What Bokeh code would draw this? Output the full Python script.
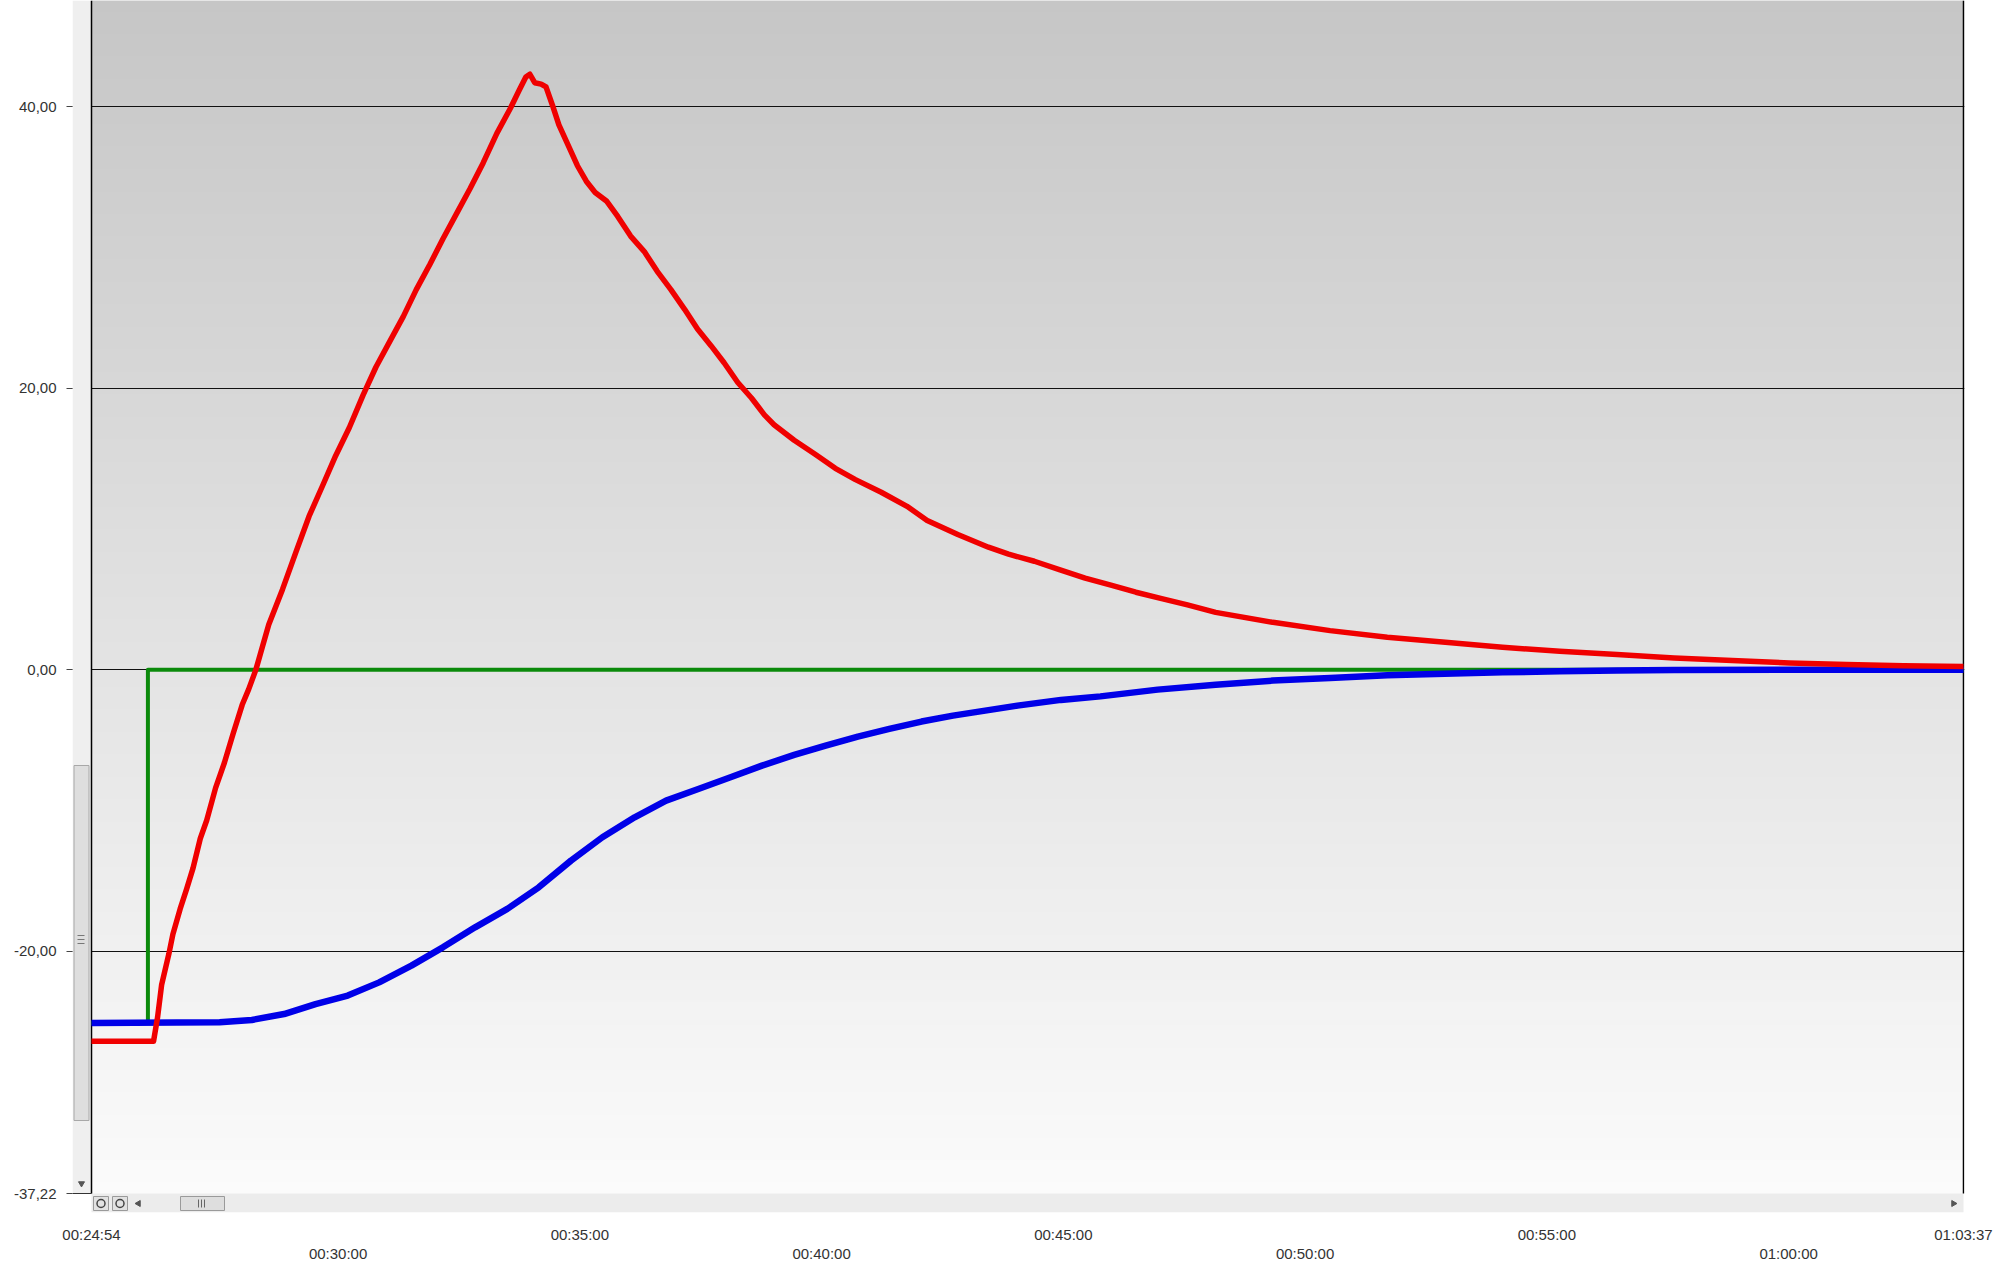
import numpy as np
from bokeh.plotting import figure
from bokeh.models import Range1d, LinearAxis, FixedTicker
from bokeh.embed import file_html
from bokeh.resources import INLINE

# ---------------- data (time in seconds of clock time, values) ----------------
red_t = [1494, 1571, 1576, 1581, 1590, 1595, 1604, 1612, 1620, 1629,
         1637, 1648, 1659, 1670, 1681, 1689, 1698, 1706, 1714, 1731,
         1748, 1764, 1781, 1797, 1814, 1831, 1847, 1864, 1881, 1897,
         1914, 1930, 1947, 1964, 1980, 1997, 2014, 2025, 2033, 2038,
         2044, 2052, 2058, 2066, 2074, 2086, 2097, 2108, 2119, 2133,
         2147, 2163, 2180, 2196, 2213, 2230, 2246, 2263, 2279, 2296,
         2313, 2329, 2341, 2366, 2392, 2417, 2442, 2474, 2506, 2531,
         2569, 2607, 2632, 2664, 2695, 2727, 2759, 2790, 2822, 2854,
         2889, 2960, 3031, 3102, 3174, 3245, 3316, 3387, 3458, 3530,
         3601, 3672, 3743, 3817]
red_v = [-26.4, -26.4, -24.7, -22.4, -20.2, -18.8, -17.0, -15.6, -14.1, -12.0,
         -10.7, -8.4, -6.6, -4.5, -2.5, -1.4, 0.0, 1.6, 3.2, 5.7,
         8.4, 10.9, 13.1, 15.2, 17.2, 19.5, 21.5, 23.3, 25.1, 27.0,
         28.8, 30.6, 32.4, 34.2, 36.0, 38.1, 39.9, 41.2, 42.1, 42.3,
         41.7, 41.6, 41.4, 40.1, 38.7, 37.2, 35.8, 34.7, 33.9, 33.3,
         32.2, 30.8, 29.7, 28.3, 27.0, 25.6, 24.2, 23.0, 21.8, 20.4,
         19.3, 18.1, 17.4, 16.3, 15.3, 14.3, 13.5, 12.6, 11.6, 10.6,
         9.6, 8.7, 8.2, 7.7, 7.1, 6.5, 6.0, 5.5, 5.05, 4.6,
         4.07, 3.36, 2.77, 2.3, 1.94, 1.59, 1.3, 1.07, 0.83, 0.64,
         0.47, 0.36, 0.28, 0.23]

blue_t = [1494, 1653, 1693, 1733, 1772, 1812, 1851, 1891, 1930, 1970,
          2010, 2049, 2089, 2128, 2168, 2207, 2247, 2287, 2326, 2366,
          2405, 2445, 2484, 2524, 2563, 2603, 2643, 2697, 2746, 2817,
          2889, 2960, 3031, 3102, 3173, 3245, 3316, 3387, 3458, 3601,
          3817]
blue_v = [-25.1, -25.06, -24.89, -24.47, -23.76, -23.16, -22.22, -21.03, -19.73, -18.31,
          -17.0, -15.47, -13.57, -11.91, -10.49, -9.31, -8.48, -7.65, -6.82, -6.06,
          -5.40, -4.76, -4.21, -3.69, -3.27, -2.91, -2.56, -2.15, -1.9, -1.42,
          -1.07, -0.78, -0.59, -0.40, -0.29, -0.19, -0.12, -0.06, -0.03, 0.0,
          0.0]

green_t = [1494, 1564, 1564, 3817]
green_v = [-25.1, -25.1, 0.0, 0.0]

y_ticks = [-37.22, -20, 0, 20, 40]
y_tick_labels = ["-37,22", "-20,00", "0,00", "20,00", "40,00"]
grid_values = [-20, 0, 20, 40]

x_ticks_upper = [1494, 2100, 2700, 3300, 3817]
x_labels_upper = ["00:24:54", "00:35:00", "00:45:00", "00:55:00", "01:03:37"]
x_ticks_lower = [1800, 2400, 3000, 3600]
x_labels_lower = ["00:30:00", "00:40:00", "00:50:00", "01:00:00"]

# ---------------- layout ----------------
T0, T1 = x_ticks_upper[0], x_ticks_upper[-1]
Y_MIN = y_ticks[0]
PX_X = 0.80585   # px per second
PX_Y = 14.075    # px per unit
FRAME_W, FRAME_H = 1892, 1212
x_start = T0 - 19 / PX_X
x_end = x_start + FRAME_W / PX_X
y_end = Y_MIN + 1193 / PX_Y
y_start = y_end - FRAME_H / PX_Y


def dx(px):  # page pixel -> data x
    return x_start + (px - 72) / PX_X


def dy(py):  # page pixel -> data y
    return y_end - py / PX_Y


FONT = "Liberation Sans"

p = figure(frame_width=FRAME_W, frame_height=FRAME_H,
           x_range=Range1d(x_start, x_end), y_range=Range1d(y_start, y_end),
           output_backend="svg", toolbar_location=None,
           min_border_left=72, min_border_right=34, min_border_top=0, min_border_bottom=54,
           background_fill_color="white", border_fill_color="white",
           outline_line_color=None)

# gradient background
N = 106
edges = np.linspace(Y_MIN, y_end, N + 1)
step = edges[1] - edges[0]
shade = np.linspace(251, 198, N).round().astype(int)
cols = ["#%02x%02x%02x" % (c, c, c) for c in shade]
tops = np.minimum(edges[1:] + step, y_end)
p.quad(left=T0, right=x_end, bottom=edges[:-1], top=tops,
       fill_color=cols, line_color=None, level="image")

# grid
p.xgrid.grid_line_color = None
p.ygrid.ticker = FixedTicker(ticks=grid_values)
p.ygrid.grid_line_color = "#111111"
p.ygrid.grid_line_width = 1

# vertical scrollbar strip
p.quad(left=dx(72), right=dx(91), bottom=Y_MIN, top=y_end,
       fill_color="#efefef", line_color=None)
p.quad(left=dx(73.5), right=dx(88.5), bottom=dy(1120), top=dy(765),
       fill_color="#dedede", line_color="#a8a8a8", line_width=1)
p.segment(x0=[dx(77)] * 3, x1=[dx(84)] * 3,
          y0=[dy(935), dy(939), dy(943)], y1=[dy(935), dy(939), dy(943)],
          line_color="#777777", line_width=1)
p.scatter([dx(81)], [dy(1183)], marker="triangle", size=6, angle=np.pi,
          color="#555555")

# horizontal scrollbar
p.quad(left=dx(91), right=dx(1963), bottom=dy(1212), top=dy(1193),
       fill_color="#ececec", line_color=None)
p.quad(left=[dx(93), dx(112)], right=[dx(108), dx(127)],
       bottom=dy(1210), top=dy(1196),
       fill_color="#e2e2e2", line_color="#9a9a9a", line_width=1)
p.scatter([dx(100.5), dx(119.5)], [dy(1203)] * 2, marker="circle", size=8,
          fill_color=None, line_color="#444444", line_width=1.5)
p.scatter([dx(138)], [dy(1203)], marker="triangle", size=6, angle=np.pi / 2,
          color="#555555")
p.scatter([dx(1953)], [dy(1203)], marker="triangle", size=6, angle=-np.pi / 2,
          color="#555555")
p.quad(left=dx(180), right=dx(224), bottom=dy(1210), top=dy(1196),
       fill_color="#dedede", line_color="#9a9a9a", line_width=1)
p.segment(x0=[dx(198), dx(201), dx(204)], x1=[dx(198), dx(201), dx(204)],
          y0=dy(1207), y1=dy(1199), line_color="#666666", line_width=1)

# plot borders
p.segment(x0=[T0, T1], x1=[T0, T1], y0=[Y_MIN, Y_MIN], y1=[y_end, y_end],
          line_color="black", line_width=1.5)
p.segment(x0=[dx(66)], x1=[T0], y0=[Y_MIN], y1=[Y_MIN],
          line_color="#333333", line_width=1)

# data
p.line(green_t, green_v, line_color="#0b8a0b", line_width=4, line_join="round")
p.line(blue_t, blue_v, line_color="#0000e8", line_width=6.5, line_join="round")
p.line(red_t, red_v, line_color="#f00000", line_width=5.5, line_join="round")

# y axis
ya = p.yaxis[0]
ya.ticker = FixedTicker(ticks=y_ticks)
ya.major_label_overrides = dict(zip(y_ticks, y_tick_labels))
ya.axis_line_color = None
ya.major_tick_out = 6
ya.major_tick_in = 0
ya.major_tick_line_color = "#444444"
ya.minor_tick_line_color = None
ya.major_label_standoff = 10
ya.major_label_text_font = FONT
ya.major_label_text_font_size = "15px"
ya.major_label_text_color = "#333333"

# x axes (two staggered rows)
xa1 = p.xaxis[0]
xa1.ticker = FixedTicker(ticks=x_ticks_upper)
xa1.major_label_overrides = dict(zip(x_ticks_upper, x_labels_upper))

xa2 = LinearAxis(ticker=FixedTicker(ticks=x_ticks_lower),
                 major_label_overrides=dict(zip(x_ticks_lower, x_labels_lower)))
p.add_layout(xa2, "below")

for ax, so in ((xa1, 13), (xa2, -1)):
    ax.axis_line_color = None
    ax.major_tick_line_color = None
    ax.minor_tick_line_color = None
    ax.major_tick_out = 0
    ax.major_tick_in = 0
    ax.major_label_standoff = so
    ax.major_label_text_font = FONT
    ax.major_label_text_font_size = "15px"
    ax.major_label_text_color = "#333333"

open("out.html", "w").write(file_html(p, INLINE))
